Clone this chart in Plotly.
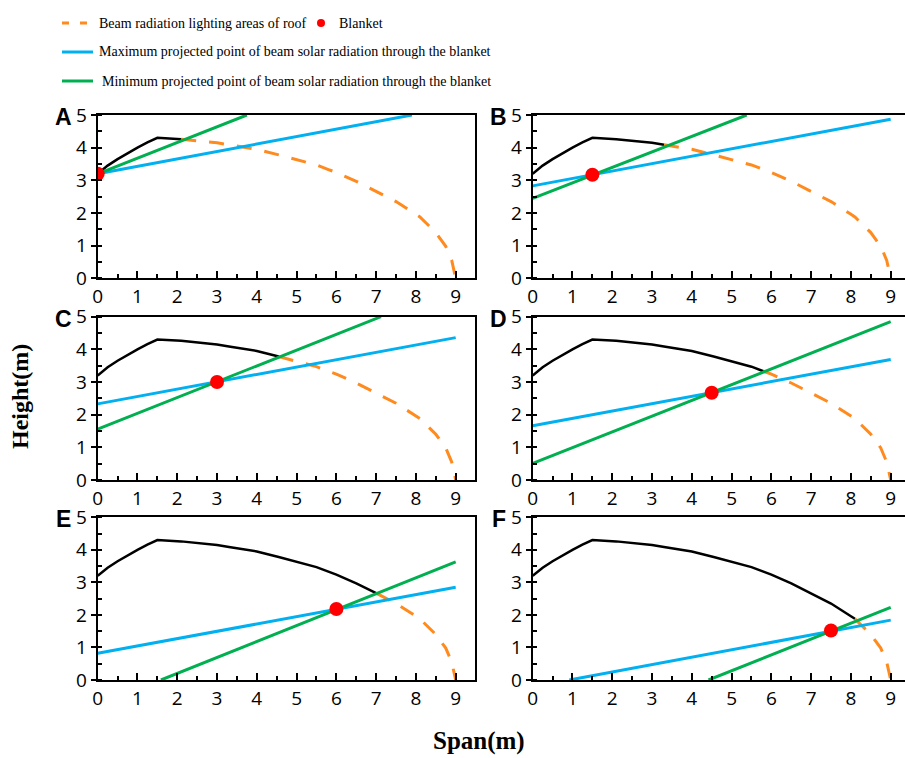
import numpy as np
import plotly.graph_objects as go
from plotly.subplots import make_subplots

W, H = 905, 758

# Roof profile of the greenhouse (span vs. height, m)
roof_x = [0, 0.25, 0.5, 0.75, 1.0, 1.25, 1.5, 2.1, 2.5, 3.0, 3.3, 3.5, 4.0, 4.55,
          5.0, 5.5, 5.8, 6.0, 6.5, 7.0, 7.5, 8.0, 8.1, 8.5, 8.75, 8.9, 9.0]
roof_y = [3.2, 3.45, 3.65, 3.83, 4.0, 4.16, 4.3, 4.26, 4.22, 4.15, 4.09, 4.05, 3.95, 3.78,
          3.64, 3.47, 3.33, 3.24, 2.97, 2.67, 2.35, 1.96, 1.88, 1.4, 0.98, 0.55, 0.0]

panel_labels = ["A", "B", "C", "D", "E", "F"]

# Blanket position in each case
blanket_x = [0.0, 1.5, 3.0, 4.5, 6.0, 7.5]
blanket_y = [3.2, 3.17, 3.0, 2.67, 2.18, 1.52]

# Span position where the beam-lit part of the roof starts
lit_start_x = [2.1, 3.3, 4.55, 5.8, 7.0, 8.1]

# Maximum projected point line (end points)
max_x = [[0, 7.9], [0, 9], [0, 9], [0, 9], [0, 9], [0.92, 9]]
max_y = [[3.2, 5.0], [2.83, 4.87], [2.33, 4.36], [1.66, 3.69], [0.82, 2.85], [0.0, 1.84]]

# Minimum projected point line (end points)
min_x = [[0, 3.75], [0, 5.38], [0, 7.12], [0, 9], [1.59, 9], [4.42, 9]]
min_y = [[3.2, 5.0], [2.45, 5.0], [1.56, 5.0], [0.51, 4.85], [0.0, 3.63], [0.0, 2.23]]

x_ticks = [0, 1, 2, 3, 4, 5, 6, 7, 8, 9]
y_ticks = [0, 1, 2, 3, 4, 5]

ORANGE = "#FF8A1E"
BLUE = "#00B0F0"
GREEN = "#00B050"
RED = "#FF0000"

TICK_FONT = dict(family="Open Sans", size=19, color="black")
SERIF = "Liberation Serif"


def px_x(p):
    return p / W


def px_y(p):
    return 1 - p / H


fig = make_subplots(rows=3, cols=2)

# pixel boxes of the panels: (left, right) per column, (top, bottom) per row
left_cols = [(97.7, 475.0), (532.7, 905.0)]
rows_px = [(115.0, 278.3), (316.7, 480.0), (517.3, 680.0)]
unit_px = (890.7 - 532.7) / 9.0

roof_x_arr = np.array(roof_x)
roof_y_arr = np.array(roof_y)

for i, lab in enumerate(panel_labels):
    r, c = i // 2 + 1, i % 2 + 1
    lit = lit_start_x[i]
    shade = roof_x_arr <= lit + 1e-9
    sun = roof_x_arr >= lit - 1e-9

    fig.add_trace(go.Scatter(x=roof_x_arr[sun], y=roof_y_arr[sun], mode="lines",
                             line=dict(color=ORANGE, width=3, dash="15px,13px"),
                             showlegend=False, hoverinfo="skip"), row=r, col=c)
    fig.add_trace(go.Scatter(x=roof_x_arr[shade], y=roof_y_arr[shade], mode="lines",
                             line=dict(color="black", width=2.5),
                             showlegend=False, hoverinfo="skip"), row=r, col=c)
    fig.add_trace(go.Scatter(x=max_x[i], y=max_y[i], mode="lines",
                             line=dict(color=BLUE, width=3),
                             showlegend=False), row=r, col=c)
    fig.add_trace(go.Scatter(x=min_x[i], y=min_y[i], mode="lines",
                             line=dict(color=GREEN, width=3),
                             showlegend=False), row=r, col=c)
    fig.add_trace(go.Scatter(x=[blanket_x[i]], y=[blanket_y[i]], mode="markers",
                             marker=dict(color=RED, size=14, line=dict(width=0)),
                             showlegend=False), row=r, col=c)

    l, rt = left_cols[c - 1]
    top, bot = rows_px[r - 1]
    xmax = (rt - l) / unit_px
    fig.update_xaxes(domain=[px_x(l), px_x(rt)], range=[0, xmax], automargin=False,
                     tickvals=x_ticks, ticks="inside", ticklen=7, tickwidth=2,
                     tickcolor="black", showline=True, linewidth=2, linecolor="black",
                     mirror=True, showgrid=False, zeroline=False, tickfont=TICK_FONT,
                     minor=dict(ticks="inside", ticklen=4, tickwidth=2, dtick=0.5,
                                tickcolor="black", showgrid=False),
                     row=r, col=c)
    fig.update_yaxes(domain=[px_y(bot), px_y(top)], range=[0, 5], automargin=False,
                     tickvals=y_ticks, ticks="outside", ticklen=5, tickwidth=2,
                     tickcolor="black", showline=True, linewidth=2, linecolor="black",
                     mirror=(c == 1), showgrid=False, zeroline=False, tickfont=TICK_FONT,
                     minor=dict(ticks="inside", ticklen=4, tickwidth=2, dtick=0.5,
                                tickcolor="black", showgrid=False),
                     row=r, col=c)

    fig.add_annotation(text=f"<b>{lab}</b>", x=px_x(l - 34), y=px_y(top + 2),
                       xref="paper", yref="paper", xanchor="center", yanchor="middle",
                       showarrow=False,
                       font=dict(family="Liberation Sans", size=23, color="black"))

# Legend drawn by hand at the top
legend_font = dict(family=SERIF, size=14, color="black")


def legend_text(txt, x, y):
    fig.add_annotation(text=txt, x=px_x(x), y=px_y(y), xref="paper", yref="paper",
                       xanchor="left", yanchor="middle", showarrow=False,
                       font=legend_font)


def legend_line(color, y, dash="solid"):
    fig.add_shape(type="line", xref="paper", yref="paper",
                  x0=px_x(62), x1=px_x(93), y0=px_y(y), y1=px_y(y),
                  line=dict(color=color, width=3, dash=dash))


legend_line(ORANGE, 23, dash="7px,11px")
legend_text("Beam radiation lighting areas of roof", 97, 23)
fig.add_shape(type="circle", xref="paper", yref="paper",
              x0=px_x(317), x1=px_x(325), y0=px_y(19), y1=px_y(27),
              fillcolor=RED, line=dict(width=0))
legend_text("Blanket", 337, 23)
legend_line(BLUE, 52)
legend_text("Maximum projected point of beam solar radiation through the blanket", 97, 52)
legend_line(GREEN, 81)
legend_text("Minimum projected point of beam solar radiation through the blanket", 100, 81)

# Axis titles
fig.add_annotation(text="<b>Span(m)</b>", x=px_x(479), y=px_y(741), xref="paper",
                   yref="paper", xanchor="center", yanchor="middle", showarrow=False,
                   font=dict(family=SERIF, size=25, color="black"))
fig.add_annotation(text="<b>Height(m)</b>", x=px_x(20), y=px_y(397), xref="paper",
                   yref="paper", xanchor="center", yanchor="middle", showarrow=False,
                   textangle=-90,
                   font=dict(family=SERIF, size=24, color="black"))

fig.update_layout(width=W, height=H,
                  margin=dict(l=0, r=0, t=0, b=0, pad=0, autoexpand=False),
                  paper_bgcolor="white", plot_bgcolor="white", showlegend=False)

fig.write_html("out.html")
